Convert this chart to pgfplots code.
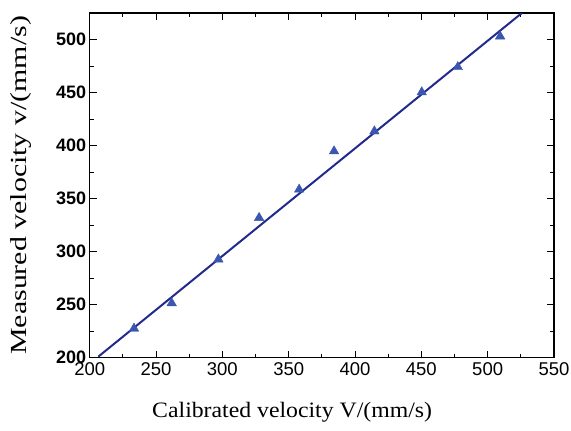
\documentclass[border=0pt]{standalone}
\usepackage{pgfplots}
\pgfplotsset{compat=1.18}
\usepackage{fontspec}
\setmainfont{Liberation Serif}
\setsansfont{Liberation Sans}
\definecolor{mk}{RGB}{58,86,176}
\definecolor{ln}{RGB}{34,42,140}
\begin{document}
\begin{tikzpicture}
\begin{axis}[
  scale only axis, width=464.3pt, height=344.7pt,
  xmin=200, xmax=550, ymin=200, ymax=525,
  xtick={200,250,...,550}, ytick={200,250,...,500},
  minor xtick={225,275,...,525}, minor ytick={225,275,...,525},
  tick align=inside, major tick length=7pt, minor tick length=4pt,
  every tick/.style={black, line width=0.9pt},
  axis line style={line width=1.1pt},
  xticklabel style={font=\fontsize{18.5}{18.5}\selectfont\sffamily, yshift=-1pt},
  yticklabel style={font=\fontsize{18}{18}\selectfont\sffamily\bfseries},
  /pgf/number format/assume math mode=true,
  xlabel={Calibrated velocity V/(mm/s)},
  ylabel={Measured velocity v/(mm/s)},
  xlabel style={font=\fontsize{22}{22}\selectfont, at={(axis description cs:0.436,-0.1575)}, anchor=center, xscale=1.08},
  ylabel style={font=\fontsize{23}{23}\selectfont, at={(axis description cs:-0.148,0.5)}, anchor=center, xscale=1.3},
  clip=true,
]
\addplot[ln, line width=2pt] coordinates {(206.5,201) (525.8,525)};
\addplot[only marks, mark=triangle*, mark size=5.5pt, mark options={fill=mk, draw=mk}] coordinates {
(233.4,227.5) (261.8,251.5) (297,292.7) (327.7,331.9) (357.9,358.6)
(384.2,394.7) (414.6,413.5) (450.3,450.3) (477.5,474.1) (509.4,503)
};
\end{axis}
\pgfresetboundingbox
\path ([shift={(-89.7pt,-72.3pt)}]current axis.south west) rectangle ([shift={(17pt,13pt)}]current axis.north east);
\end{tikzpicture}
\end{document}
